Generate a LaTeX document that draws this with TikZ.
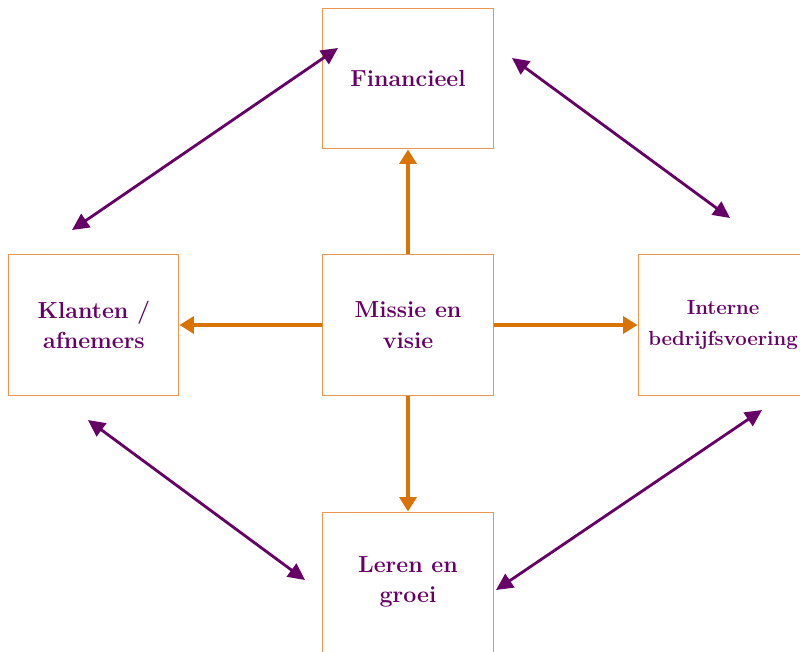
\documentclass[tikz,border=0pt]{standalone}
\usepackage{xcolor}
\usepackage{tikz}
\usetikzlibrary{arrows.meta,positioning}

\definecolor{paars}{RGB}{102,0,102}
\definecolor{oranje}{RGB}{217,115,5}
\definecolor{rand}{RGB}{232,150,80}

\begin{document}
\begin{tikzpicture}[
  x=0.025cm, y=-0.025cm,
  font=\bfseries\fontsize{16.5}{21.5}\selectfont,
  box/.style={draw=rand, line width=0.7pt, align=center, text=paars,
              minimum width=4.25cm, minimum height=3.5cm, fill=white},
  kern/.style={-{Triangle[length=3.6mm,width=4.2mm]}, oranje, line width=2.6pt},
  wissel/.style={{Triangle[length=4.2mm,width=4mm]}-{Triangle[length=4.2mm,width=4mm]},
                 paars, line width=2pt}
]
\useasboundingbox (0,0) rectangle (800,651);

\node[box] (mis) at (408,325) {Missie en\\visie};
\node[box, above=2.625cm of mis] (fin) {Financieel};
\node[box, left=3.575cm of mis]  (kla) {Klanten /\\afnemers};
\node[box, right=3.6cm of mis, font=\bfseries\fontsize{14.5}{21.5}\selectfont]
      (int) {Interne\\bedrijfsvoering};
\node[box, below=2.9cm of mis]   (ler) {Leren en\\groei};

% vrije eindpunten van de diagonale pijlen
\coordinate (kla_b) at (72,230);
\coordinate (fin_l) at (338,48);
\coordinate (fin_r) at (512,58);
\coordinate (int_b) at (730,218);
\coordinate (kla_o) at (88,420);
\coordinate (ler_l) at (305,580);
\coordinate (int_o) at (762,410);
\coordinate (ler_r) at (496,590);

\draw[kern] (mis) -- (fin);
\draw[kern] (mis) -- (kla);
\draw[kern] (mis) -- (int);
\draw[kern] (mis) -- (ler);

\draw[wissel] (kla_b) -- (fin_l);
\draw[wissel] (fin_r) -- (int_b);
\draw[wissel] (kla_o) -- (ler_l);
\draw[wissel] (int_o) -- (ler_r);
\end{tikzpicture}
\end{document}
